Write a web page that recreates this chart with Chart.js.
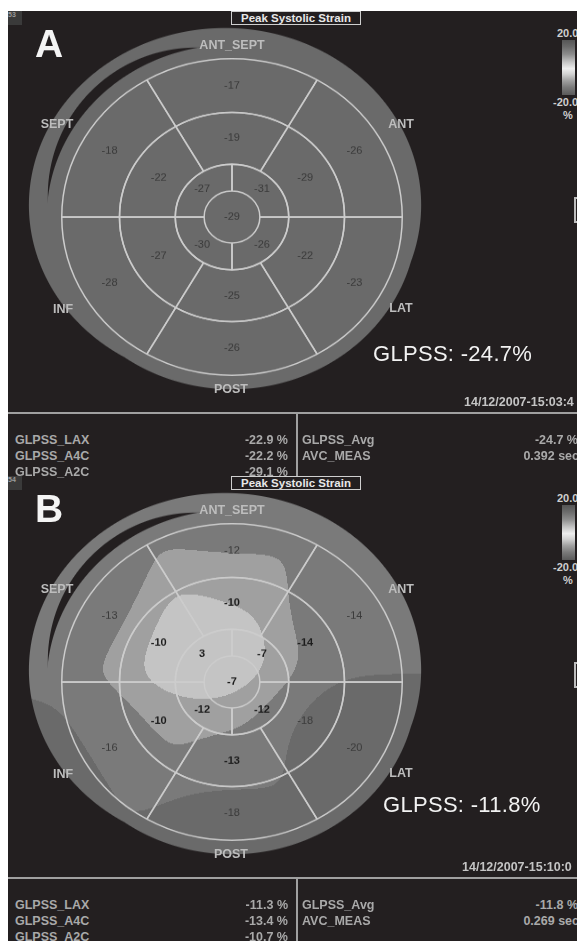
<!DOCTYPE html>
<html>
<head>
<meta charset="utf-8">
<script src="https://cdn.jsdelivr.net/npm/chart.js@4.4.0/dist/chart.umd.min.js"></script>
<style>
  html, body { margin: 0; padding: 0; background: #fff; }
  #page { position: relative; width: 577px; height: 941px; overflow: hidden; background: #fff;
          font-family: "Liberation Sans", Arial, sans-serif; }
  #bg { position: absolute; left: 8px; top: 11px; right: 0; bottom: 0; background: #231f20; }
  .t { position: absolute; white-space: nowrap; line-height: 0; }
  canvas.bull { position: absolute; transform: scaleY(0.93); transform-origin: 50% 50%; }
  .title { position: absolute; left: 231px; width: 128px; height: 12px; border: 1px solid #cfcfcf;
           background: #231f20; color: #e8e8e8; font-weight: bold; font-size: 11.5px;
           line-height: 12px; text-align: center; white-space: nowrap; }
  .tag { position: absolute; left: 8px; width: 14px; height: 14px; background: #3a3a3a;
         color: #9a9a9a; font-size: 7px; line-height: 8px; font-weight: bold; }
  .hline { position: absolute; left: 8px; right: 0; height: 2px; background: #a0a0a0; }
  .vline { position: absolute; left: 296px; width: 2px; background: #a0a0a0; }
  .cbar { position: absolute; left: 562px; width: 13px; height: 55px;
          background: linear-gradient(to bottom, #555 0%, #6a6a6a 12%, #8c8c8c 26%, #c4c4c4 40%,
                      #eeeeee 52%, #d2d2d2 62%, #a0a0a0 74%, #7a7a7a 86%, #5a5a5a 100%); }
  .mark { position: absolute; left: 574px; width: 6px; height: 22px; border: 2px solid #bdbdbd; border-right: none; }
</style>
</head>
<body>
<div id="page">
  <div id="bg"></div>
  <canvas id="bullA" class="bull" width="460" height="440" style="left:2px; top:-3px;"></canvas>
  <canvas id="bullB" class="bull" width="460" height="440" style="left:2px; top:462px;"></canvas>
</div>
<script>
// segment strain (%), clockwise from the top
// basal / mid: 6 segments of 60 deg, apical: 4 segments of 90 deg, apex: 1
const basalA = [-17, -26, -23, -26, -28, -18];
const midA = [-19, -29, -22, -25, -27, -22];
const apicalA = [-31, -26, -30, -27];
const apexA = [-29];

const basalB = [-12, -14, -20, -18, -16, -13];
const midB = [-10, -14, -18, -13, -10, -10];
const apicalB = [-7, -12, -12, 3];
const apexB = [-7];

const regionNames = ['ANT_SEPT', 'ANT', 'LAT', 'POST', 'INF', 'SEPT'];
const viewNames = ['GLPSS_LAX', 'GLPSS_A4C', 'GLPSS_A2C'];
const viewsA = [-22.9, -22.2, -29.1];
const viewsB = [-11.3, -13.4, -10.7];
const avgA = -24.7, avgB = -11.8;
const avcA = 0.392, avcB = 0.269;
const stampA = '14/12/2007-15:03:4', stampB = '14/12/2007-15:10:0';

const page = document.getElementById('page');

function put(s, x, y, size, o) {
  o = o || {};
  const d = document.createElement('div');
  d.className = 't';
  d.textContent = s;
  d.style.left = x + 'px';
  d.style.top = (y - 0.3465 * size) + 'px';
  d.style.fontSize = size + 'px';
  d.style.fontWeight = o.bold === false ? 'normal' : 'bold';
  d.style.color = o.color || '#a9a9a9';
  if (o.letter) d.style.letterSpacing = o.letter + 'px';
  if (o.align === 'right') d.style.transform = 'translateX(-100%)';
  if (o.align === 'center') d.style.transform = 'translateX(-50%)';
  page.appendChild(d);
}

function box(cls, css, text) {
  const d = document.createElement('div');
  d.className = cls;
  d.style.cssText = css;
  if (text) d.textContent = text;
  page.appendChild(d);
}

function shade(v) {
  if (v <= -15.5) return 106;
  if (v <= -11.5) return 122;
  if (v <= -8.5) return 160;
  if (v <= -4) return 196;
  return 226;
}

function centerOf(arc) {
  return arc.innerRadius === 0 ? { x: arc.x, y: arc.y } : arc.getCenterPoint();
}

// smooth strain map under the segment grid, plus the tissue outline
const fieldPlugin = {
  id: 'field',
  beforeDatasetsDraw(chart) {
    const pts = [];
    chart.data.datasets.forEach((ds, i) => {
      chart.getDatasetMeta(i).data.forEach((arc, j) => {
        const p = centerOf(arc);
        pts.push([p.x, p.y, ds.strain[j]]);
      });
    });
    const a0 = chart.getDatasetMeta(0).data[0];
    const cx = a0.x, cy = a0.y, R = a0.outerRadius;
    const s2 = 2 * Math.pow(0.2 * R, 2);
    const half = Math.ceil(R * 1.22);
    const size = half * 2;
    const off = document.createElement('canvas');
    off.width = size; off.height = size;
    const octx = off.getContext('2d');
    const img = octx.createImageData(size, size);
    const dR = 1.088 * R;
    const e1 = [-0.041 * R, -0.075 * R, 1.152 * R, 1.119 * R];
    const e2 = [-0.212 * R, -0.134 * R, 0.870 * R, 0.936 * R];
    const cov = (e, dx, dy) => {
      const k = Math.hypot((dx - e[0]) / e[2], (dy - e[1]) / e[3]);
      return Math.min(1, Math.max(0, (1 - k) * (e[2] + e[3]) / 2 + 0.5));
    };
    for (let py = 0; py < size; py++) {
      for (let px = 0; px < size; px++) {
        const dx = px + 0.5 - half, dy = py + 0.5 - half;
        const cD = Math.min(1, Math.max(0, dR + 0.5 - Math.hypot(dx, dy)));
        const a = Math.max(cD, Math.min(cov(e1, dx, dy), 1 - cov(e2, dx, dy)));
        if (a <= 0) continue;
        const x = cx + dx, y = cy + dy;
        let sw = 0, sv = 0;
        for (const p of pts) {
          const d2 = (p[0] - x) * (p[0] - x) + (p[1] - y) * (p[1] - y);
          const w = Math.exp(-d2 / s2) + 1e-30;
          sw += w; sv += w * p[2];
        }
        const g = shade(sv / sw);
        const k = (py * size + px) * 4;
        img.data[k] = g; img.data[k + 1] = g; img.data[k + 2] = g;
        img.data[k + 3] = Math.round(a * 255);
      }
    }
    octx.putImageData(img, 0, 0);
    chart.ctx.drawImage(off, cx - half, cy - half);
  }
};

const valuePlugin = {
  id: 'values',
  afterDatasetsDraw(chart) {
    const ctx = chart.ctx;
    ctx.save();
    ctx.textAlign = 'center';
    ctx.textBaseline = 'middle';
    chart.data.datasets.forEach((ds, i) => {
      chart.getDatasetMeta(i).data.forEach((arc, j) => {
        const v = ds.strain[j];
        const p = centerOf(arc);
        const strong = i > 0 && v > -15;
        ctx.font = (strong ? 'bold ' : '') + '11px "Liberation Sans", Arial, sans-serif';
        ctx.fillStyle = strong ? '#1c1c1c' : '#3a3a3a';
        ctx.fillText(String(v), p.x, p.y);
      });
    });
    ctx.restore();
  }
};

function ring(vals, weight, rot) {
  return {
    data: vals.map(() => 1),
    strain: vals,
    weight: weight,
    rotation: rot,
    backgroundColor: 'rgba(0,0,0,0)',
    borderColor: '#cdcdcd',
    borderWidth: 1.5
  };
}

function makeBull(id, basal, mid, apical, apex) {
  const apexRing = ring(apex, 28, 0);
  apexRing.borderWidth = 0;
  return new Chart(document.getElementById(id), {
    type: 'doughnut',
    data: {
      datasets: [ring(basal, 58, -30), ring(mid, 56, -30), ring(apical, 29, 0), apexRing]
    },
    options: {
      responsive: false,
      animation: false,
      events: [],
      cutout: 0,
      layout: { padding: { top: 49, bottom: 49, left: 59, right: 59 } },
      plugins: { legend: { display: false }, tooltip: { enabled: false } }
    },
    plugins: [fieldPlugin, valuePlugin]
  });
}

function panel(dy, letter, tagNum, glpss, gx, gy, stamp, sx, views, avg, avc) {
  box('tag', 'top:' + (11 + dy) + 'px;', tagNum);
  put(letter, 35, 58 + dy, 39, { color: '#f4f4f4' });
  // region labels
  const rc = '#bdbdbd';
  put(regionNames[0], 232, 49 + dy, 12.5, { color: rc, align: 'center' });
  put(regionNames[1], 401, 128 + dy, 12.5, { color: rc, align: 'center' });
  put(regionNames[2], 401, 312 + dy, 12.5, { color: rc, align: 'center' });
  put(regionNames[3], 231, 393 + dy, 12.5, { color: rc, align: 'center' });
  put(regionNames[4], 63, 313 + dy, 12.5, { color: rc, align: 'center' });
  put(regionNames[5], 57, 128 + dy, 12.5, { color: rc, align: 'center' });

  put('GLPSS: ' + glpss.toFixed(1) + '%', gx, gy, 22, { bold: false, color: '#f2f2f2', letter: 0.3 });
  put(stamp, sx, 406 + dy, 12.5, { color: '#c4c4c4' });

  // colour bar
  put('20.0', 557, 37 + dy, 11, { color: '#cfcfcf' });
  box('cbar', 'top:' + (40 + dy) + 'px;');
  put('-20.0', 553, 106 + dy, 11, { color: '#cfcfcf' });
  put('%', 563, 119 + dy, 11, { color: '#cfcfcf' });
  box('mark', 'top:' + (197 + dy) + 'px;');

  // summary table
  box('hline', 'top:' + (412 + dy) + 'px;');
  box('vline', 'top:' + (413 + dy) + 'px; height:' + (dy === 0 ? 64 : 70) + 'px;');
  views.forEach((v, i) => {
    put(viewNames[i], 15, 444 + dy + i * 16, 12.5);
    put(v.toFixed(1) + ' %', 288, 444 + dy + i * 16, 12.5, { align: 'right' });
  });
  put('GLPSS_Avg', 302, 444 + dy, 12.5);
  put(avg.toFixed(1) + ' %', 578, 444 + dy, 12.5, { align: 'right' });
  put('AVC_MEAS', 302, 460 + dy, 12.5);
  put(avc.toFixed(3) + ' sec', 579, 460 + dy, 12.5, { align: 'right' });

  box('title', 'top:' + (11 + dy) + 'px;', 'Peak Systolic Strain');
}

makeBull('bullA', basalA, midA, apicalA, apexA);
makeBull('bullB', basalB, midB, apicalB, apexB);
panel(0, 'A', '53', avgA, 373, 362, stampA, 464, viewsA, avgA, avcA);
panel(465, 'B', '54', avgB, 383, 813, stampB, 462, viewsB, avgB, avcB);
</script>
</body>
</html>
